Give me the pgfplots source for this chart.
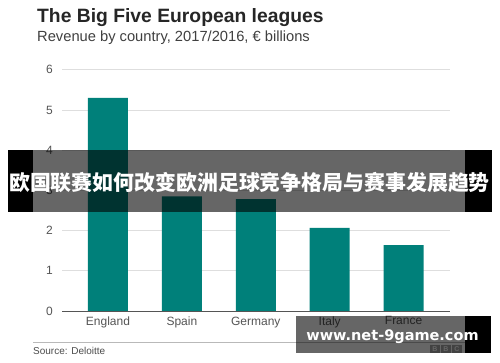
\documentclass[border=0pt]{standalone}
\usepackage{fontspec}
\setmainfont{Liberation Sans}
\newfontfamily\cjk{Noto Sans CJK SC}
\newfontfamily\wm{DejaVu Sans}
\usepackage{pgfplots}
\pgfplotsset{compat=1.18}
\definecolor{teal1}{RGB}{0,128,122}
\definecolor{tickgray}{RGB}{85,85,85}
\definecolor{gridgray}{RGB}{222,222,222}
\begin{document}
\begin{tikzpicture}[x=1pt,y=1pt]
\fill[white] (0,0) rectangle (500,362);
\begin{axis}[
  at={(62pt,51pt)}, anchor=south west,
  scale only axis, width=388pt, height=241.2pt,
  xmin=-0.622, xmax=4.628, ymin=0, ymax=6,
  ytick={0,...,6},
  xtick={0,...,4},
  xticklabels={England,Spain,Germany,Italy,France},
  axis line style={draw=none},
  major tick length=0pt,
  ymajorgrids, grid style={color=gridgray, line width=0.9pt},
  tick label style={font=\fontsize{12}{14}\selectfont, text=tickgray},
  yticklabel style={inner sep=0pt, anchor=east, xshift=-9pt},
  xticklabel style={inner sep=0pt, anchor=north, yshift=-5.5pt},
  /pgf/number format/assume math mode=true,
  ybar, bar width=40pt,
  clip=false,
]
\addplot[fill=teal1, draw=none] coordinates {(0,5.30)(1,2.85)(2,2.78)(3,2.07)(4,1.64)};
\draw[tickgray, line width=1pt] (axis cs:-0.622,0) -- (axis cs:4.628,0);
\end{axis}
% titles
\node[anchor=base west, inner sep=0pt, font=\fontsize{19.3}{22}\selectfont\bfseries, text=black!85] at (37,339) {The Big Five European leagues};
\node[anchor=base west, inner sep=0pt, font=\fontsize{14.7}{17}\selectfont, text=black!75] at (37,320) {Revenue by country, 2017/2016, € billions};
% footer
\draw[gray!55, line width=0.8pt] (33,20) -- (465,20);
\node[anchor=base west, inner sep=0pt, font=\fontsize{10}{12}\selectfont, text=black!70] at (33,8) {Source: Deloitte};
\foreach \i/\l in {0/B,1/B,2/C} {
  \fill[gray!70] (430+\i*11,9) rectangle (440+\i*11,17);
  \node[text=white, inner sep=0pt, font=\fontsize{7}{8}\selectfont\bfseries] at (435+\i*11,13) {\l};
}
% banner
\fill[black, opacity=0.6] (33,150) rectangle (465,212);
\fill[black] (8,150) rectangle (33,212);
\fill[black] (465,150) rectangle (492,212);
\node[text=white, inner sep=0pt, font=\cjk\bfseries\fontsize{20.9}{24}\selectfont] at (249.5,179) {欧国联赛如何改变欧洲足球竞争格局与赛事发展趋势};
% watermark
\fill[black, opacity=0.6] (296,9) rectangle (465,46);
\fill[black] (465,9) rectangle (491,46);
\node[text=white, inner sep=0pt, font=\wm\bfseries\fontsize{14.5}{17}\selectfont] at (392.5,25) {www.net-9game.com};
\end{tikzpicture}
\end{document}
